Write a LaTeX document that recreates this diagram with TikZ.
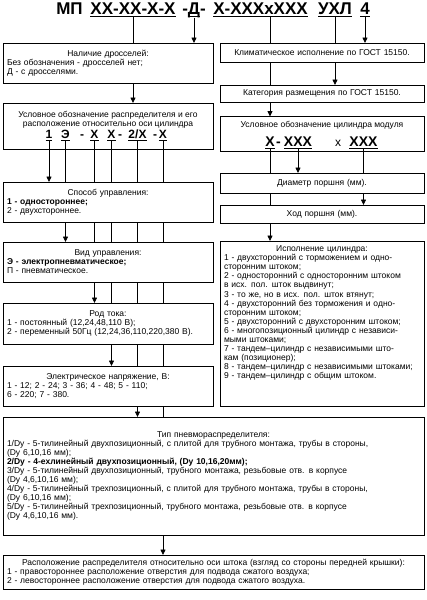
\documentclass[tikz,border=0pt]{standalone}
\usepackage{fontspec}
\setmainfont{Liberation Sans}
\usetikzlibrary{arrows.meta}

\newcommand\codeul[1]{\setbox0\hbox{#1}\rlap{\rule[-3pt]{\wd0}{1.3pt}}\box0}
\newcommand\hd[1]{\makebox[\linewidth][c]{#1}}

\begin{document}
\begin{tikzpicture}[x=1pt, y=-1pt,
    box/.style={draw, line width=0.8pt, fill=white, inner xsep=4pt, inner ysep=0pt, outer sep=0pt,
        font=\fontsize{8.5}{9.1}\selectfont},
    leftbox/.style={box, minimum width=210pt, text width=202pt, align=left},
    rightbox/.style={box, minimum width=204pt, text width=196pt, align=left},
    widebox/.style={box, minimum width=421pt, text width=413pt, align=left},
    capt/.style={inner sep=0pt, align=center, font=\fontsize{8.5}{9.1}\selectfont},
    ttl/.style={inner sep=0pt, anchor=base, font=\fontsize{17}{17}\selectfont\bfseries},
    code/.style={inner sep=0pt, anchor=base, font=\fontsize{12}{12}\selectfont\bfseries},
    cylcode/.style={inner sep=0pt, anchor=base, font=\fontsize{14}{14}\selectfont\bfseries},
    link/.style={line width=0.8pt},
    arr/.style={line width=0.8pt, -{Triangle[length=5.5pt, width=5pt]}}]
        \useasboundingbox (0,0) rectangle (427,600);

        %title
        \node[ttl] (t0) at (69.5,14) {МП};
        \node[ttl] (t1) at (133,14) {\codeul{XX-XX-X-X}};
        \node[ttl] (t2) at (194,14) {-\codeul{Д}-};
        \node[ttl] (t3) at (260.5,14) {\codeul{X-XXXxXXX}};
        \node[ttl] (t4) at (335,14) {\codeul{УХЛ}};
        \node[ttl] (t5) at (365,14) {\codeul{4}};
        \coordinate (t3l) at ([xshift=9.5pt]t3.south);

        %left column
        \node[leftbox, minimum height=40pt] (b1) at (108,63)
            {\hd{Наличие дросселей:}\\ Без обозначения - дросселей нет;\\ Д - с дросселями.};
        \node[leftbox, minimum height=46pt] (b2) at (108,126) {};
        \node[capt] (b2cap) at (108,119.5)
            {Условное обозначение распределителя и его\\ расположение относительно оси цилиндра};
        \node[code] (k1) at (49,138) {\codeul{1}};
        \node[code] (k2) at (65.5,138) {\codeul{Э}};
        \node[code] (kd1) at (82,138) {-};
        \node[code] (k3) at (94.5,138) {\codeul{X}};
        \node[code] (k4) at (111.5,138) {\codeul{X}};
        \node[code] (kd2) at (120,138) {-};
        \node[code] (k5) at (137.5,138) {\codeul{2/X}};
        \node[code] (kd3) at (155,138) {-};
        \node[code] (k6) at (163,138) {\codeul{X}};
        \node[leftbox, minimum height=40pt] (b3) at (108,202)
            {\hd{Способ управления:}\\ \textbf{1 - одностороннее;}\\ 2 - двухстороннее.};
        \node[leftbox, minimum height=40pt] (b4) at (108,262)
            {\hd{Вид управления:}\\ \textbf{Э - электропневматическое;}\\ П - пневматическое.};
        \node[leftbox, minimum height=41pt] (b5) at (108,323.5)
            {\hd{Род тока:}\\ 1 - постоянный (12,24,48,110 В);\\ 2 - переменный 50Гц (12,24,36,110,220,380 В).};
        \node[leftbox, minimum height=40pt] (b6) at (108,386)
            {\hd{Электрическое напряжение, В:}\\ 1 - 12; 2 - 24; 3 - 36; 4 - 48; 5 - 110;\\ 6 - 220; 7 - 380.};

        %right column
        \node[rightbox, minimum height=19pt, align=center] (r1) at (322,52.5)
            {Климатическое исполнение по ГОСТ 15150.};
        \node[rightbox, minimum height=17pt, align=center] (r2) at (322,93.5)
            {Категория размещения по ГОСТ 15150.};
        \node[rightbox, minimum height=35pt] (r3) at (322,134) {};
        \node[capt] (r3cap) at (322,125) {Условное обозначение цилиндра модуля};
        \node[cylcode] (c1) at (270,146) {\codeul{X}};
        \node[cylcode] (cd) at (278.5,146) {-};
        \node[cylcode] (c2) at (298,146) {\codeul{XXX}};
        \node[inner sep=0pt, anchor=base, font=\fontsize{12}{12}\selectfont] (cx) at (338,146) {x};
        \node[cylcode] (c3) at (363.5,146) {\codeul{XXX}};
        \node[rightbox, minimum height=20pt, align=center] (r4) at (322,183) {Диаметр поршня (мм).};
        \node[rightbox, minimum height=18pt, align=center] (r5) at (322,214) {Ход поршня (мм).};
        \node[rightbox, minimum height=165pt] (r6) at (322,323.5) {};
        \node[capt, text width=196pt, align=left, anchor=north] (r6txt) at (322,245.5)
            {\hd{Исполнение цилиндра:}\\
            1 - двухсторонний с торможением и одно-\\ сторонним штоком;\\
            2 - односторонний с односторонним штоком\\ в исх. пол. шток выдвинут;\\
            3 - то же, но в исх. пол. шток втянут;\\
            4 - двухсторонний без торможения и одно-\\ сторонним штоком;\\
            5 - двухсторонний с двухсторонним штоком;\\
            6 - многопозиционный цилиндр с независи-\\ мыми штоками;\\
            7 - тандем–цилиндр с независимыми што-\\ кам (позиционер);\\
            8 - тандем–цилиндр с независимыми штоками;\\
            9 - тандем–цилиндр с общим штоком.};

        %bottom
        \node[widebox, minimum height=118pt] (b7) at (213.5,476)
            {\hd{Тип пневмораспределителя:}\\
            1/Dy - 5-тилинейный двухпозиционный, с плитой для трубного монтажа, трубы в стороны,\\
            (Dy 6,10,16 мм);\\
            \textbf{2/Dy - 4-ехлинейный двухпозиционный, (Dy 10,16,20мм);}\\
            3/Dy - 5-тилинейный двухпозиционный, трубного монтажа, резьбовые отв. в корпусе\\
            (Dy 4,6,10,16 мм);\\
            4/Dy - 5-тилинейный трехпозиционный, с плитой для трубного монтажа, трубы в стороны,\\
            (Dy 6,10,16 мм);\\
            5/Dy - 5-тилинейный трехпозиционный, трубного монтажа, резьбовые отв. в корпусе\\
            (Dy 4,6,10,16 мм).};
        \node[widebox, minimum height=34pt] (b8) at (213.5,572)
            {\hd{Расположение распределителя относительно оси штока (взгляд со стороны передней крышки):}\\
            1 - правостороннее расположение отверстия для подвода сжатого воздуха;\\
            2 - левостороннее расположение отверстия для подвода сжатого воздуха.};

        %title edges
        \draw[link] (t1.south) -- (t1 |- b1.north);
        \draw[arr] (t1 |- b1.south) -- (t1 |- b2.north);
        \draw[arr] (t2.south) -- (t2 |- b1.north);
        \draw[link] (t3l) -- (t3l |- r1.north);
        \draw[link] (t3l |- r1.south) -- (t3l |- r2.north);
        \draw[arr] (t3l |- r2.south) -- (t3l |- r3.north);
        \draw[link] (t4.south) -- (t4 |- r1.north);
        \draw[arr] (t4 |- r1.south) -- (t4 |- r2.north);
        \draw[arr] (t5.south) -- (t5 |- r1.north);

        %cylinder edges
        \draw[link] (c1.south) -- (c1 |- r4.north);
        \draw[link] (c1 |- r4.south) -- (c1 |- r5.north);
        \draw[arr] (c1 |- r5.south) -- (c1 |- r6.north);
        \draw[arr] (c2.south) -- (c2 |- r4.north);
        \draw[link] (c3.south) -- (c3 |- r4.north);
        \draw[arr] (c3 |- r4.south) -- (c3 |- r5.north);

        %valve edges
        \draw[arr] (k1.south) -- (k1 |- b3.north);
        \draw[link] (k2.south) -- (k2 |- b3.north);
        \draw[arr] (k2 |- b3.south) -- (k2 |- b4.north);
        \draw[link] (k3.south) -- (k3 |- b3.north);
        \draw[link] (k3 |- b3.south) -- (k3 |- b4.north);
        \draw[arr] (k3 |- b4.south) -- (k3 |- b5.north);
        \draw[link] (k4.south) -- (k4 |- b3.north);
        \draw[link] (k4 |- b3.south) -- (k4 |- b4.north);
        \draw[link] (k4 |- b4.south) -- (k4 |- b5.north);
        \draw[arr] (k4 |- b5.south) -- (k4 |- b6.north);
        \draw[link] (k5.south) -- (k5 |- b3.north);
        \draw[link] (k5 |- b3.south) -- (k5 |- b4.north);
        \draw[link] (k5 |- b4.south) -- (k5 |- b5.north);
        \draw[link] (k5 |- b5.south) -- (k5 |- b6.north);
        \draw[arr] (k5 |- b6.south) -- (k5 |- b7.north);
        \draw[link] (k6.south) -- (k6 |- b3.north);
        \draw[link] (k6 |- b3.south) -- (k6 |- b4.north);
        \draw[link] (k6 |- b4.south) -- (k6 |- b5.north);
        \draw[link] (k6 |- b5.south) -- (k6 |- b6.north);
        \draw[link] (k6 |- b6.south) -- (k6 |- b7.north);
        \draw[arr] (k6 |- b7.south) -- (k6 |- b8.north);
\end{tikzpicture}
\end{document}
